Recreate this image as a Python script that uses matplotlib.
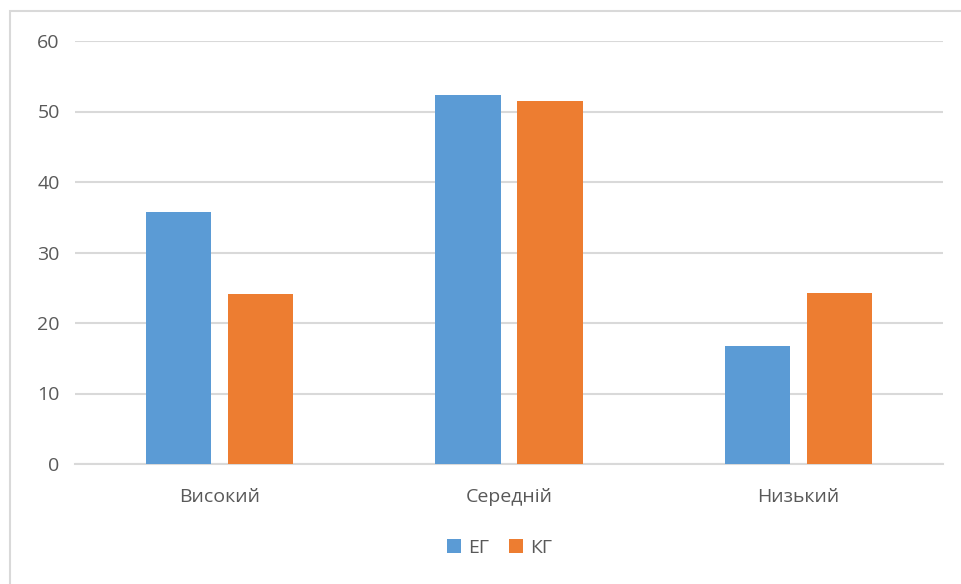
import matplotlib
matplotlib.use("Agg")
import matplotlib.pyplot as plt
from matplotlib.patches import Rectangle, Patch
import numpy as np

categories = ["Високий", "Середній", "Низький"]
series_names = ["ЕГ", "КГ"]
eg_values = [35.7, 52.4, 16.7]
kg_values = [24.1, 51.5, 24.3]
y_ticks = [0, 10, 20, 30, 40, 50, 60]

blue = "#5B9BD5"
orange = "#ED7D31"
grid_color = "#D9D9D9"
text_color = "#595959"

plt.rcParams["font.family"] = ["Open Sans", "DejaVu Sans"]

fig = plt.figure(figsize=(9.61, 5.84), dpi=100)
fig.patch.set_facecolor("white")

# chart-area frame (left and top edges visible)
fig.patches.append(Rectangle((10 / 961, -0.05), 1.1, 1 - 11 / 584 + 0.05,
                             transform=fig.transFigure, fill=False,
                             edgecolor=grid_color, linewidth=1.5))

ax = fig.add_axes([75 / 961, 1 - 464 / 584, (943 - 75) / 961, (464 - 41) / 584])

x = np.arange(len(categories))
width = 0.225
offset = 0.1417
ax.bar(x - offset, eg_values, width, color=blue, zorder=3)
ax.bar(x + offset, kg_values, width, color=orange, zorder=3)

ax.set_xlim(-0.5, len(categories) - 0.5)
ax.set_ylim(0, 60)
ax.set_yticks(y_ticks)
ax.set_yticklabels([str(v) for v in y_ticks])
ax.set_xticks(x)
ax.set_xticklabels(categories)

ax.yaxis.grid(True, color=grid_color, linewidth=1.5, zorder=0)
ax.set_axisbelow(True)
for side in ["top", "right", "left"]:
    ax.spines[side].set_visible(False)
ax.spines["bottom"].set_color(grid_color)
ax.spines["bottom"].set_linewidth(1.5)
ax.tick_params(axis="both", length=0, labelsize=14, colors=text_color)
ax.tick_params(axis="y", pad=11)
ax.tick_params(axis="x", pad=17)

handles = [Patch(facecolor=blue, label=series_names[0]),
           Patch(facecolor=orange, label=series_names[1])]
leg = fig.legend(handles=handles, loc="center", bbox_to_anchor=(0.52, 1 - 548 / 584),
                 ncol=2, frameon=False, fontsize=14, handlelength=0.7,
                 handleheight=0.7, handletextpad=0.4, columnspacing=1.0)
for t in leg.get_texts():
    t.set_color(text_color)

fig.savefig("out.png", dpi=100, facecolor="white")
